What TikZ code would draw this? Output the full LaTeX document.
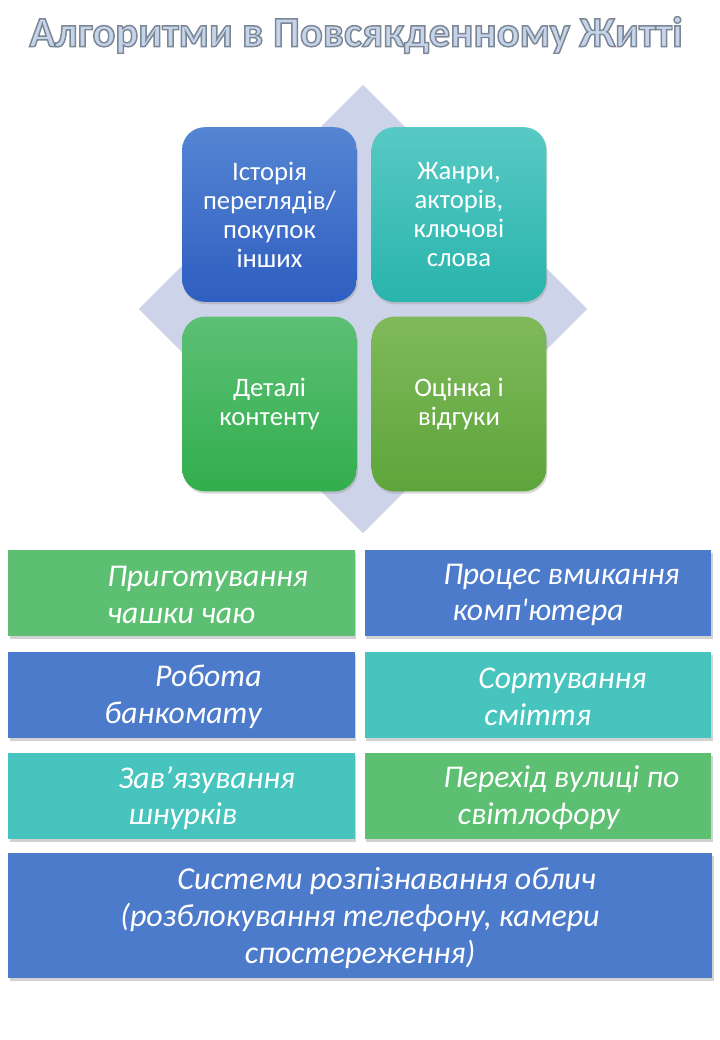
\documentclass[tikz,border=0pt]{standalone}
\usepackage{fontspec}
\setmainfont{Carlito}[Ligatures=TeXOff]
\usetikzlibrary{positioning,shadows}

\definecolor{diamcol}{HTML}{CDD3E8}
\definecolor{ttlfill}{HTML}{C6D4EA}
\definecolor{taskgreen}{HTML}{5CBF72}
\definecolor{taskblue}{HTML}{4D7BCB}
\definecolor{taskteal}{HTML}{47C4BE}

% outlined text: fill plus grey stroke
\newcommand{\outlined}[1]{%
  \special{pdf:code q 2 Tr 1.1 w 0.486 0.529 0.584 RG}#1\special{pdf:code Q}}

\begin{document}
\begin{tikzpicture}[x=0.75pt, y=-0.75pt,
  titletxt/.style={font=\fontsize{32}{38}\selectfont\bfseries, inner sep=0pt},
  quad/.style={rounded corners=17pt, minimum width=131pt, minimum height=131pt,
               align=center, text=white, inner sep=0pt,
               font=\fontsize{20}{21.75}\selectfont,
               drop shadow={shadow xshift=0.8pt, shadow yshift=-1.8pt, opacity=0.3}},
  task/.style={minimum width=260pt, minimum height=64.5pt, inner sep=0pt,
               drop shadow={shadow xshift=1.2pt, shadow yshift=-2pt, opacity=0.35}},
  tasktxt/.style={anchor=west, align=left, text=white, inner sep=0pt,
                  font=\fontsize{23.75}{27.5}\selectfont\itshape}
]
  \useasboundingbox[fill=white] (0,0) rectangle (720,1040);

  % Title
  \node[titletxt, text=ttlfill] (ttl) at (356,35) {\outlined{Алгоритми в Повсякденному Житті}};

  % Background diamond
  \node[fill=diamcol, rotate=45, minimum size=237.6pt, inner sep=0pt] (bg) at (363,309) {};

  % Four quadrants
  \node[quad, top color={rgb,255:red,85;green,133;blue,211}, bottom color={rgb,255:red,46;green,94;blue,192}]
      (q1) at (269.5,214.5) {Історія\\переглядів/\\покупок\\інших};
  \node[quad, top color={rgb,255:red,88;green,201;blue,196}, bottom color={rgb,255:red,40;green,180;blue,172}]
      (q2) at (459,214.5) {Жанри,\\акторів,\\ключові\\слова};
  \node[quad, top color={rgb,255:red,92;green,192;blue,117}, bottom color={rgb,255:red,50;green,174;blue,77}]
      (q3) at (269.5,404) {Деталі\\контенту};
  \node[quad, top color={rgb,255:red,128;green,185;blue,90}, bottom color={rgb,255:red,93;green,165;blue,58}]
      (q4) at (459,404) {Оцінка і\\відгуки};

  % Everyday algorithms
  \node[task, fill=taskgreen] (b1) at (181.5,593) {};
  \node[task, fill=taskblue]  (b2) at (538,593)   {};
  \node[task, fill=taskblue]  (b3) at (181.5,695) {};
  \node[task, fill=taskteal]  (b4) at (538,695)   {};
  \node[task, fill=taskteal]  (b5) at (181.5,796) {};
  \node[task, fill=taskgreen] (b6) at (538,796)   {};
  \node[task, fill=taskblue, minimum width=528pt, minimum height=93.75pt] (b7) at (360,915.5) {};

  \node[tasktxt] (t1) at (107,595) {Приготування\\чашки чаю};
  \node[tasktxt] (t2) at (443,595) {Процес вмикання\\\hspace*{7pt}комп'ютера};
  \node[tasktxt, anchor=east, align=right] (t3) at (262,697) {Робота\\банкомату};
  \node[tasktxt] (t4) at (478,697) {Сортування\\\hspace*{4.5pt}сміття};
  \node[tasktxt] (t5) at (118,798) {Зав’язування\\\hspace*{7.5pt}шнурків};
  \node[tasktxt] (t6) at (443,798) {Перехід вулиці по\\\hspace*{11pt}світлофору};
  \node[tasktxt, anchor=center, align=center, font=\fontsize{24}{28}\selectfont\itshape]
      (t7) at ([yshift=-2]b7.center)
      {\hspace*{40pt}Системи розпізнавання облич\\(розблокування телефону, камери\\спостереження)};
\end{tikzpicture}
\end{document}
